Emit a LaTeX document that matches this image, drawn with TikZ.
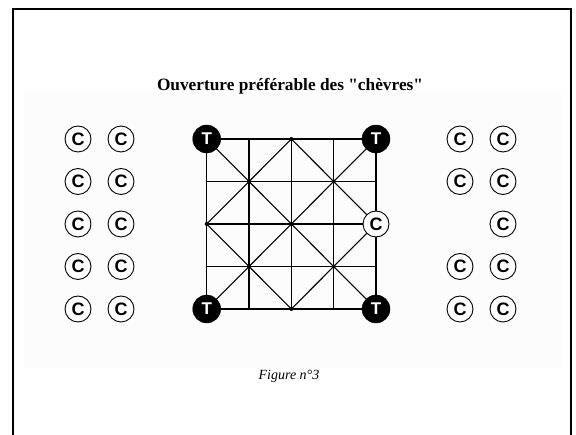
\documentclass[tikz,border=0pt]{standalone}
\usepackage{fontspec}
\setmainfont{Liberation Serif}
\newfontfamily\titlefont[Ligatures=ResetAll]{Liberation Serif}
\newfontfamily\piecefont{Liberation Sans}
\begin{document}
\begin{tikzpicture}[x=1pt,y=-1pt,
  gridline/.style={line width=1.1pt},
  tpiece/.style={circle,fill=black,draw=black,minimum size=28pt,inner sep=0pt,text=white,font=\piecefont\bfseries\fontsize{17}{17}\selectfont},
  cpiece/.style={circle,fill=white,draw=black,line width=0.9pt,minimum size=26pt,inner sep=0pt,font=\piecefont\bfseries\fontsize{18}{18}\selectfont},
  jdot/.style={circle,fill=black,minimum size=4pt,inner sep=0pt},
  titletext/.style={font=\titlefont\bfseries\fontsize{17.3}{19}\selectfont},
  captext/.style={font=\itshape\fontsize{14}{16}\selectfont}
]
\useasboundingbox (0,0) rectangle (576,435);
\fill[black!1] (24,92) rectangle (561,368);
\draw[line width=2pt] (13,436) -- (13,9) -- (571,9) -- (571,436);
\node[titletext] (title) at (290,86) {Ouverture préférable des "chèvres"};
\node[captext] (caption) at (289,376) {Figure n°3};
% grid coordinates
\foreach \i in {0,...,4} {
  \foreach \j in {0,...,4} {
    \coordinate (g\i\j) at ({206.7+42.325*\i},{139+42.5*\j});
  }
}
\foreach \k in {0,...,4} {
  \draw[gridline] (g\k0) -- (g\k4);
  \draw[gridline] (g0\k) -- (g4\k);
}
\draw[gridline] (g00) -- (g44);
\draw[gridline] (g40) -- (g04);
\draw[gridline] (g20) -- (g02) -- (g24) -- (g42) -- cycle;
\foreach \p in {11,31,22,13,33,20,02,24} {
  \node[jdot] (d\p) at (g\p) {};
}
% tigers
\node[tpiece] (t1) at (g00) {T};
\node[tpiece] (t2) at (g40) {T};
\node[tpiece] (t3) at (g04) {T};
\node[tpiece] (t4) at (g44) {T};
% goat on board
\node[cpiece] (cb) at (g42) {C};
% goats off board
\foreach \r in {0,...,4} {
  \path (g0\r) ++(-128.7,0) node[cpiece] (l1\r) {C};
  \path (g0\r) ++(-85.7,0) node[cpiece] (l2\r) {C};
  \path (g4\r) ++(127,0) node[cpiece] (r2\r) {C};
}
\foreach \r in {0,1,3,4} {
  \path (g4\r) ++(84,0) node[cpiece] (r1\r) {C};
}
\end{tikzpicture}
\end{document}
